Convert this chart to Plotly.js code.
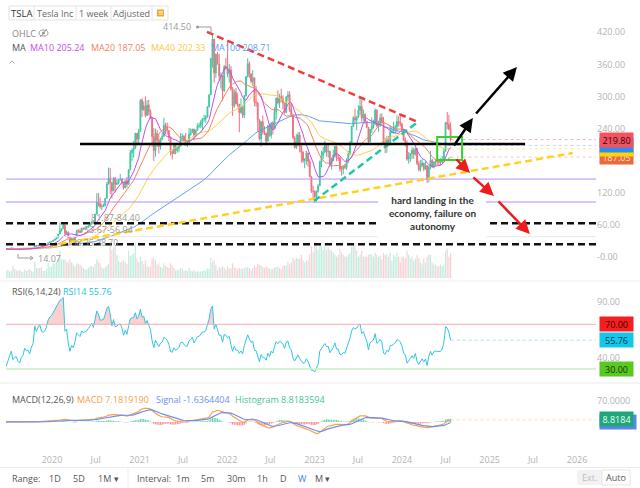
<!DOCTYPE html>
<html>
<head>
<meta charset="utf-8">
<script src="https://cdn.plot.ly/plotly-3.0.1.min.js"></script>
<style>
  html, body { margin: 0; padding: 0; background: #fff; }
  #chart { width: 640px; height: 488px; }
</style>
</head>
<body>
<div id="chart"></div>
<script>
/*****************************************************
 * TSLA weekly, split adjusted (Mar 2019 - Jul 2024)
 * one value per week, last week = 2024-07-22
 *****************************************************/
const lastWeek = Date.UTC(2024, 6, 22);
const firstOpen = 19.7;

const closes = [
  // 2019 from Mar 4
  18.9, 18.4, 17.6, 18.7, 17.9, 17.8, 18.2, 15.7, 17.0, 16.0, 14.1, 12.7, 12.3, 13.6, 14.3, 14.8,
  14.9, 15.5, 16.4, 17.2, 15.2, 15.6, 15.7, 14.6, 14.1, 15.0, 15.3, 16.5, 16.0, 16.1, 15.4, 16.5, 17.1, 21.9, 20.9, 22.5, 23.5, 22.2, 22.0, 22.4, 23.9, 27.0, 28.7, 29.5,
  // 2020
  31.9, 34.0, 37.7, 43.4, 49.9, 53.3, 60.1, 44.5, 46.9, 36.4, 28.5, 34.3, 32.0, 38.2, 50.2, 48.4, 46.8, 54.6, 53.3, 54.4, 55.7, 59.0, 62.4, 66.7, 63.9, 80.5,
  102.9, 100.0, 94.5, 95.4, 96.8, 110.0, 136.6, 147.6, 139.4, 124.0, 147.6, 136.0, 138.4, 145.0, 146.4, 140.2, 129.3, 143.0, 136.1, 163.2, 195.1, 199.7, 203.2, 231.7, 220.4, 235.2,
  // 2021
  293.3, 275.6, 282.1, 264.7, 284.0, 272.0, 260.7, 225.2, 199.0, 231.2, 218.0, 206.4, 220.6, 225.7, 246.3, 243.0, 236.5, 224.0, 196.6, 193.4, 208.4, 199.3, 203.3, 207.8, 224.0, 226.0,
  218.9, 214.6, 214.7, 229.4, 233.4, 239.1, 226.9, 237.0, 244.7, 245.4, 253.2, 258.3, 258.4, 261.8, 281.0, 303.2, 371.4, 407.4, 344.2, 379.0, 360.6, 338.3, 339.0, 310.6, 355.7, 352.3,
  // 2022
  342.3, 350.0, 314.4, 282.1, 307.8, 286.7, 285.7, 269.9, 279.7, 265.1, 301.8, 336.9, 361.5, 342.0, 328.3, 335.0, 290.3, 288.5, 256.5, 221.3, 253.0, 234.5, 232.0, 216.8, 245.7, 227.3,
  250.8, 240.1, 272.0, 297.1, 288.2, 300.0, 296.7, 288.1, 270.2, 299.7, 303.4, 275.3, 265.3, 223.1, 205.0, 214.4, 228.5, 207.5, 196.0, 180.2, 182.9, 194.9, 179.1, 150.2, 123.2, 123.2,
  // 2023
  113.1, 122.4, 133.4, 177.9, 190.0, 196.9, 208.3, 196.9, 197.8, 173.4, 180.1, 190.4, 207.5, 185.0, 185.0, 165.1, 164.3, 170.1, 168.0, 180.1, 193.2, 214.0, 244.4, 260.5, 256.6, 261.8,
  274.4, 281.4, 260.0, 266.4, 253.9, 242.7, 215.5, 238.6, 245.0, 248.5, 274.4, 244.9, 250.2, 260.5, 251.1, 212.0, 207.3, 220.0, 214.7, 234.3, 235.5, 238.8, 243.8, 253.5, 252.5, 248.5,
  // 2024
  237.5, 218.9, 212.2, 183.3, 187.9, 193.6, 200.0, 192.0, 202.6, 175.3, 163.6, 170.8, 175.8, 164.9, 171.1, 147.1, 168.3, 181.2, 168.5, 177.5, 179.2, 178.1, 177.5, 178.0, 183.0, 197.9,
  251.5, 248.2, 239.2, 219.8
];

const highs = [
  19.8, 19.3, 18.6, 18.8, 19.1, 18.3, 18.3, 18.3, 17.3, 17.0, 16.3, 14.1, 13.1, 14.0, 14.6, 15.2,
  15.3, 16.3, 16.6, 17.6, 17.6, 16.3, 16.2, 15.9, 15.0, 15.2, 15.5, 16.6, 16.8, 16.4, 16.3, 16.6, 17.4, 22.1, 22.0, 22.7, 23.8, 23.9, 22.6, 22.6, 24.0, 27.3, 29.0, 30.3,
  32.4, 34.5, 39.0, 43.6, 64.6, 54.0, 61.3, 60.5, 50.4, 48.3, 38.9, 37.2, 35.4, 38.4, 50.3, 52.4, 53.3, 54.8, 55.2, 55.3, 56.9, 60.2, 66.1, 67.0, 67.4, 81.0,
  119.7, 119.7, 112.0, 100.0, 100.2, 110.7, 140.8, 167.5, 166.7, 139.4, 150.0, 150.0, 143.9, 145.6, 155.3, 147.0, 140.2, 143.3, 150.0, 164.8, 200.2, 203.2, 217.0, 231.7, 231.7, 239.6,
  294.8, 297.0, 291.0, 300.1, 293.5, 294.0, 276.0, 262.0, 241.5, 240.0, 238.0, 229.5, 223.0, 232.0, 260.3, 251.0, 251.3, 236.5, 224.0, 200.0, 210.0, 211.0, 207.0, 209.0, 232.2, 231.0,
  228.0, 232.0, 218.0, 241.6, 240.5, 240.0, 240.0, 238.0, 250.0, 251.0, 256.0, 260.0, 266.0, 266.0, 282.0, 304.0, 372.0, 414.5, 407.4, 380.0, 383.0, 380.0, 345.0, 339.0, 359.0, 372.0,
  402.7, 361.0, 357.0, 318.0, 313.0, 316.0, 306.0, 286.0, 296.6, 282.0, 302.6, 338.0, 371.6, 366.0, 343.0, 349.0, 335.0, 320.0, 288.5, 258.0, 254.0, 265.0, 245.0, 232.0, 247.0, 249.0,
  252.0, 254.0, 280.0, 298.0, 311.9, 305.0, 314.7, 302.0, 288.1, 300.0, 310.0, 310.0, 288.0, 268.0, 226.0, 229.9, 234.0, 234.0, 208.9, 198.0, 185.0, 198.9, 194.9, 183.0, 152.0, 133.5,
  125.0, 125.0, 136.7, 180.7, 199.0, 206.0, 217.6, 209.0, 211.2, 199.0, 186.0, 200.7, 207.8, 208.0, 192.0, 188.0, 170.0, 171.0, 174.4, 184.8, 198.6, 217.3, 245.0, 263.6, 276.9, 264.0,
  284.3, 299.3, 294.0, 276.0, 269.0, 254.0, 243.0, 239.0, 261.2, 257.0, 278.4, 276.5, 254.8, 268.0, 268.9, 262.0, 223.0, 226.4, 226.0, 246.7, 243.0, 253.0, 247.0, 265.1, 263.0, 265.1,
  251.0, 238.0, 223.5, 217.8, 196.4, 194.1, 205.6, 204.5, 204.8, 203.0, 179.9, 182.0, 182.5, 176.5, 179.2, 172.0, 172.0, 198.9, 184.0, 179.6, 183.8, 180.3, 180.0, 185.0, 188.8, 203.2,
  252.4, 271.0, 266.0, 251.8
];

const lows = [
  18.4, 18.0, 17.5, 17.2, 16.9, 17.4, 17.2, 15.2, 15.5, 15.8, 13.8, 12.3, 12.1, 11.8, 13.4, 14.0,
  14.3, 14.9, 15.0, 16.3, 14.8, 15.0, 15.0, 14.4, 14.07, 14.1, 14.9, 15.2, 15.8, 15.2, 15.0, 15.4, 16.5, 16.9, 20.1, 20.6, 22.3, 21.8, 21.5, 21.6, 22.2, 23.6, 27.0, 28.3,
  29.3, 31.5, 34.0, 35.0, 43.4, 48.0, 53.0, 40.8, 42.6, 36.3, 23.4, 28.0, 29.8, 32.0, 38.2, 45.0, 45.0, 46.0, 51.5, 52.0, 53.5, 55.6, 58.5, 60.6, 62.0, 63.9,
  80.5, 95.0, 90.7, 88.0, 94.0, 94.8, 110.0, 136.0, 118.0, 110.0, 124.0, 121.0, 135.0, 136.0, 143.0, 136.0, 126.4, 129.3, 130.3, 136.1, 163.2, 180.0, 186.0, 203.2, 209.0, 211.0,
  233.7, 262.0, 273.0, 261.0, 264.0, 265.0, 258.0, 206.0, 179.8, 187.7, 206.0, 193.4, 201.0, 218.5, 225.0, 230.0, 229.0, 217.0, 190.0, 182.3, 193.0, 192.0, 195.0, 197.0, 207.0, 216.0,
  212.0, 212.0, 205.5, 214.7, 227.0, 232.0, 218.0, 226.9, 236.0, 241.0, 241.0, 237.0, 253.0, 251.0, 261.0, 280.0, 303.2, 354.0, 326.2, 335.0, 360.0, 330.0, 315.0, 292.7, 309.0, 350.0,
  336.0, 326.0, 311.0, 264.0, 279.0, 285.0, 280.0, 233.3, 268.0, 260.0, 260.0, 300.0, 336.0, 335.0, 325.0, 320.0, 282.0, 281.0, 234.0, 218.0, 206.9, 229.0, 228.0, 208.7, 216.0, 225.0,
  222.0, 229.0, 240.0, 257.0, 285.0, 279.0, 290.0, 276.0, 268.0, 270.0, 292.0, 271.0, 262.0, 221.0, 203.0, 202.0, 207.0, 196.0, 177.0, 176.0, 166.2, 172.7, 169.1, 150.0, 120.0, 108.2,
  101.8, 104.6, 121.0, 133.4, 168.2, 183.0, 194.0, 188.0, 186.0, 168.7, 163.9, 180.0, 187.0, 179.0, 180.0, 160.0, 152.4, 155.0, 164.5, 163.0, 176.0, 191.0, 214.0, 243.0, 250.0, 237.0,
  260.0, 265.0, 253.0, 255.0, 249.0, 241.0, 212.4, 215.0, 232.0, 240.0, 248.0, 244.0, 234.6, 243.0, 250.0, 210.0, 194.1, 195.0, 208.0, 210.0, 232.0, 231.0, 231.0, 234.0, 244.0, 244.0,
  234.6, 217.0, 207.0, 180.1, 175.0, 178.0, 183.0, 184.0, 190.0, 172.0, 160.5, 160.0, 169.0, 160.5, 163.0, 138.8, 140.0, 164.0, 168.0, 166.0, 171.0, 172.0, 170.8, 171.0, 177.0, 182.0,
  198.0, 239.0, 237.0, 216.0
];

// weekly volume, millions of shares (as drawn)
const volumes = [
  200, 180, 160, 160, 250, 180, 150, 320, 280, 220, 280, 300, 220, 350, 300, 200,
  180, 220, 170, 190, 300, 230, 200, 180, 210, 170, 150, 210, 180, 200, 230, 180, 170, 420, 260, 250, 260, 280, 180, 180, 230, 380, 280, 300,
  380, 360, 420, 500, 700, 480, 480, 480, 420, 420, 480, 400, 340, 300, 380, 360, 340, 300, 260, 220, 220, 260, 300, 300, 280, 360,
  480, 420, 380, 280, 240, 280, 320, 360, 850, 720, 800, 820, 600, 450, 400, 420, 450, 400, 360, 700, 560, 600, 640, 900, 500, 420,
  550, 450, 350, 450, 300, 280, 300, 500, 520, 450, 340, 380, 280, 260, 380, 320, 280, 260, 380, 320, 260, 200, 210, 210, 260, 230,
  180, 200, 180, 260, 190, 170, 200, 160, 180, 150, 170, 180, 200, 180, 240, 240, 520, 420, 460, 340, 200, 280, 260, 300, 260, 220,
  300, 240, 260, 380, 280, 260, 220, 260, 240, 240, 260, 280, 280, 260, 200, 260, 320, 280, 360, 340, 320, 280, 260, 300, 260, 240,
  220, 240, 280, 280, 300, 260, 220, 300, 320, 320, 420, 350, 390, 520, 470, 520, 490, 500, 590, 460, 400, 450, 450, 620, 820, 670,
  870, 820, 720, 900, 820, 720, 900, 720, 800, 720, 700, 650, 600, 550, 600, 750, 650, 600, 560, 550, 600, 650, 800, 850, 900, 700,
  550, 600, 700, 550, 560, 550, 600, 620, 600, 550, 650, 600, 550, 580, 480, 650, 600, 600, 550, 650, 450, 600, 550, 650, 550, 400,
  550, 550, 500, 700, 600, 500, 550, 450, 500, 600, 500, 400, 350, 500, 400, 550, 600, 600, 400, 350, 350, 300, 300, 350, 300, 350,
  700, 750, 550, 650
];

// header / legend texts as shown
const maLegend = [['MA10', '205.24', '#c64cf2'], ['MA20', '187.05', '#f0845e'], ['MA40', '202.33', '#fcc93a'], ['MA100', '208.71', '#5ea1f3']];
const rsiLegend = 'RSI14 55.76';
const macdLegend = [['MACD 7.1819190', '#f5a04a'], ['Signal -1.6364404', '#6d8ff3'], ['Histogram 8.8183594', '#3fc49c']];

const xTickVals = ['2020-01-01', '2020-07-01', '2021-01-01', '2021-07-01', '2022-01-01', '2022-07-01', '2023-01-01',
                   '2023-07-01', '2024-01-01', '2024-07-01', '2025-01-01', '2025-07-01', '2026-01-01'];
const xTickText = ['2020', 'Jul', '2021', 'Jul', '2022', 'Jul', '2023', 'Jul', '2024', 'Jul', '2025', 'Jul', '2026'];
const priceTicks = [0, 60, 120, 240, 300, 360, 420];

/*****************************************************
 * derived series
 *****************************************************/
const N = closes.length;
const dates = closes.map((_, i) =>
  new Date(lastWeek - (N - 1 - i) * 7 * 864e5).toISOString().slice(0, 10));
const opens = closes.map((c, i) => i === 0 ? firstOpen : closes[i - 1]);

function sma(arr, n) {
  return arr.map((_, i) => {
    const s = arr.slice(Math.max(0, i - n + 1), i + 1);
    return s.reduce((a, b) => a + b, 0) / s.length;
  });
}
function ema(arr, n) {
  const k = 2 / (n + 1);
  let prev = arr[0];
  return arr.map((v, i) => (prev = i === 0 ? v : v * k + prev * (1 - k)));
}
function rsiCalc(arr, n) {
  const out = [null];
  let up = 0, dn = 0;
  for (let i = 1; i < arr.length; i++) {
    const d = arr[i] - arr[i - 1];
    if (i === 1) { up = Math.max(d, 0); dn = Math.abs(d); }
    else {
      up = (Math.max(d, 0) + (n - 1) * up) / n;
      dn = (Math.abs(d) + (n - 1) * dn) / n;
    }
    out.push(dn === 0 ? 50 : 100 * up / dn);
  }
  return out;
}

const ma10 = sma(closes, 10), ma20 = sma(closes, 20), ma40 = sma(closes, 40), ma100 = sma(closes, 100);
const rsi = rsiCalc(closes, 14);
const ema12 = ema(closes, 12), ema26 = ema(closes, 26);
const dif = ema12.map((v, i) => v - ema26[i]);
const dea = ema(dif, 9);
const hist = dif.map((v, i) => v - dea[i]);
const last = a => a[a.length - 1];

/*****************************************************
 * page geometry helpers (pixel -> paper)
 *****************************************************/
const W = 640, H = 488, ML = 6, MR = 44;
const px = x => (x - ML) / (W - ML - MR);
const py = y => 1 - y / H;
const xLeft = '2019-06-23', xRight = '2026-03-21';
const FONT = 'Open Sans, sans-serif';
const dash = '7px,4px';

/*****************************************************
 * traces
 *****************************************************/
const upCol = '#3ec7a2', dnCol = '#f26f7e';
const isUp = closes.map((c, i) => c >= opens[i]);

const volTrace = {
  type: 'bar', x: dates, y: volumes, yaxis: 'y',
  marker: { color: isUp.map(u => u ? '#c2ecde' : '#f9d0d6') }, hoverinfo: 'skip'
};
const candles = {
  type: 'candlestick', x: dates, open: opens, high: highs, low: lows, close: closes, yaxis: 'y2',
  increasing: { line: { color: upCol, width: 1 }, fillcolor: upCol },
  decreasing: { line: { color: dnCol, width: 1 }, fillcolor: dnCol },
  hoverinfo: 'skip'
};
const maLine = (y, color) => ({ type: 'scatter', mode: 'lines', x: dates, y, yaxis: 'y2',
  line: { color, width: 1 }, hoverinfo: 'skip' });
const dotLine = (v, color, yaxis) => ({ type: 'scatter', mode: 'lines', x: [last(dates), xRight], y: [v, v],
  yaxis, line: { color, width: 1, dash: 'dot' }, hoverinfo: 'skip' });

const rsiBase = { type: 'scatter', mode: 'lines', x: dates, y: dates.map(() => 70), yaxis: 'y3',
  line: { width: 0 }, hoverinfo: 'skip' };
const rsiFill = { type: 'scatter', mode: 'lines', x: dates, y: rsi.map(v => Math.max(v, 70)), yaxis: 'y3',
  fill: 'tonexty', fillcolor: 'rgba(244,120,120,0.35)', line: { width: 0 }, hoverinfo: 'skip' };
const rsiLine = { type: 'scatter', mode: 'lines', x: dates, y: rsi, yaxis: 'y3',
  line: { color: '#2fc6e6', width: 1 }, hoverinfo: 'skip' };

const histTrace = { type: 'bar', x: dates, y: hist, yaxis: 'y4',
  marker: { color: hist.map(v => v >= 0 ? '#6fd2ae' : '#f4909a') }, hoverinfo: 'skip' };
const difLine = { type: 'scatter', mode: 'lines', x: dates, y: dif, yaxis: 'y4',
  line: { color: '#f7a24a', width: 1.2 }, hoverinfo: 'skip' };
const deaLine = { type: 'scatter', mode: 'lines', x: dates, y: dea, yaxis: 'y4',
  line: { color: '#6d8ff3', width: 1.2 }, hoverinfo: 'skip' };

const traces = [
  volTrace, candles,
  maLine(ma100, '#5ea1f3'), maLine(ma40, '#fcd04a'), maLine(ma20, '#f0845e'), maLine(ma10, '#c64cf2'),
  dotLine(last(closes), 'rgba(242,82,95,0.45)', 'y2'), dotLine(last(ma100), 'rgba(94,161,243,0.45)', 'y2'),
  dotLine(last(ma40), 'rgba(252,200,58,0.5)', 'y2'), dotLine(last(ma20), 'rgba(240,132,94,0.45)', 'y2'),
  rsiBase, rsiFill, rsiLine, dotLine(last(rsi), 'rgba(47,198,230,0.45)', 'y3'),
  histTrace, difLine, deaLine, dotLine(last(dif), 'rgba(247,162,74,0.4)', 'y4')
];

/*****************************************************
 * shapes (pane borders, drawings, toolbars)
 *****************************************************/
function pline(x0, y0, x1, y1, color, width, d) {
  return { type: 'line', xref: 'paper', yref: 'paper', x0: px(x0), y0: py(y0), x1: px(x1), y1: py(y1),
    line: { color, width, dash: d || 'solid' } };
}
function prect(x0, y0, x1, y1, fill, color) {
  return { type: 'rect', xref: 'paper', yref: 'paper', x0: px(x0), y0: py(y0), x1: px(x1), y1: py(y1),
    fillcolor: fill, line: { color: color || 'rgba(0,0,0,0)', width: color ? 1 : 0 } };
}
function hline(v, color, width, d) {
  return { type: 'line', xref: 'paper', yref: 'y2', x0: 0, x1: 1, y0: v, y1: v, line: { color, width, dash: d || 'solid' } };
}
function seg(x0, y0, x1, y1, color, width, d) {
  return { type: 'line', xref: 'x', yref: 'y2', x0, y0, x1, y1, line: { color, width, dash: d || 'solid' } };
}

const shapes = [
  pline(0, 281, 640, 281, '#ececec', 1),
  pline(0, 383, 640, 383, '#ececec', 1),
  pline(0, 467.5, 640, 467.5, '#ececec', 1),
  // rsi guide lines
  { type: 'line', xref: 'paper', yref: 'y3', x0: 0, x1: 1, y0: 70, y1: 70, line: { color: '#f7aaaa', width: 1 } },
  { type: 'line', xref: 'paper', yref: 'y3', x0: 0, x1: 1, y0: 30, y1: 30, line: { color: '#c9ecc4', width: 1.5 } },
  // horizontal levels
  pline(53, 236.7, 596, 236.7, '#e9e9e9', 1),
  hline(146, '#b58cf5', 1), hline(103.2, '#b58cf5', 1),
  hline(63.5, '#111', 2.5, dash), hline(24.3, '#111', 2.5, dash),
  // white box behind the comment
  prect(378, 190, 486, 239, '#ffffff'),
  // trend lines
  seg('2020-02-01', 24.8, '2025-12-14', 194.7, '#ffd21f', 2.5, dash),
  seg('2021-10-09', 420.6, '2024-03-07', 252.6, '#f23b3b', 2.5, dash),
  seg('2022-12-30', 105, '2024-03-07', 252.6, '#1fc7a6', 2.5, dash),
  seg('2020-04-27', 211.5, '2025-05-29', 211.5, '#000', 2.5),
  { type: 'rect', xref: 'x', yref: 'y2', x0: '2024-05-27', x1: '2024-09-08', y0: 181.6, y1: 224.6,
    line: { color: '#39d12d', width: 2 } },
  // price markers (max / min)
  { type: 'path', xref: 'paper', yref: 'paper', line: { color: '#9a9a9a', width: 1 },
    path: `M ${px(198)} ${py(27)} L ${px(211)} ${py(27)} L ${px(211)} ${py(34)}` },
  { type: 'circle', xref: 'paper', yref: 'paper', x0: px(196), x1: px(199), y0: py(28.5), y1: py(25.5),
    fillcolor: '#9a9a9a', line: { width: 0 } },
  { type: 'path', xref: 'paper', yref: 'paper', line: { color: '#9a9a9a', width: 1 },
    path: `M ${px(18)} ${py(254)} L ${px(18)} ${py(258)} L ${px(33)} ${py(258)} M ${px(30)} ${py(256)} L ${px(33)} ${py(258)} L ${px(30)} ${py(260)}` },
  // collapse chevron
  { type: 'path', xref: 'paper', yref: 'paper', line: { color: '#aaa', width: 1 },
    path: `M ${px(9.5)} ${py(63.5)} L ${px(12)} ${py(61)} L ${px(14.5)} ${py(63.5)}` },
  // eye icon
  { type: 'circle', xref: 'paper', yref: 'paper', x0: px(39), x1: px(48), y0: py(36), y1: py(30),
    line: { color: '#999', width: 1 } },
  { type: 'circle', xref: 'paper', yref: 'paper', x0: px(42), x1: px(45), y0: py(34.5), y1: py(31.5),
    fillcolor: '#999', line: { width: 0 } },
  pline(40, 37, 47, 29, '#999', 1),
  // top toolbar
  prect(9, 6, 168, 20, '#fff', '#e3e3e3'),
  pline(34, 6, 34, 20, '#e3e3e3', 1), pline(76, 6, 76, 20, '#e3e3e3', 1),
  pline(111, 6, 111, 20, '#e3e3e3', 1), pline(152, 6, 152, 20, '#e3e3e3', 1),
  prect(157, 9.5, 164, 16.5, '#f7a31c'),
  // bottom toolbar
  pline(128, 469, 128, 488, '#ececec', 1),
  prect(577, 470, 602, 485, '#f2f2f2'),
  prect(602, 470, 630, 485, '#fff', '#e6e6e6')
];

/*****************************************************
 * annotations
 *****************************************************/
const ann = [];
function txt(text, x, y, color, opts) {
  ann.push(Object.assign({ text, xref: 'paper', yref: 'paper', x: px(x), y: py(y), showarrow: false,
    xanchor: 'left', yanchor: 'middle', font: { family: FONT, size: 9, color } }, opts || {}));
}
function tag(text, v, yref, bg, fg, width) {
  ann.push({ text, xref: 'paper', yref, x: px(599), y: v, xanchor: 'left', yanchor: 'middle', showarrow: false,
    bgcolor: bg, width: width || 31, height: 12, borderpad: 1, align: 'center',
    font: { family: FONT, size: 9, color: fg } });
}
function arrow(x0, y0, x1, y1, color) {
  ann.push({ text: '', xref: 'x', yref: 'y2', axref: 'x', ayref: 'y2', x: x1, y: y1, ax: x0, ay: y0,
    showarrow: true, arrowhead: 2, arrowsize: 1.1, arrowwidth: 2.5, arrowcolor: color, standoff: 0 });
}

// toolbar texts
txt('TSLA', 21.5, 13.5, '#333', { xanchor: 'center', font: { family: FONT, size: 9.5, color: '#333' } });
txt('Tesla Inc', 55, 13.5, '#666', { xanchor: 'center' });
txt('1 week', 93.5, 13.5, '#666', { xanchor: 'center' });
txt('Adjusted', 131.5, 13.5, '#666', { xanchor: 'center' });
txt('≡', 160.5, 13, '#fff', { xanchor: 'center', font: { family: 'DejaVu Sans', size: 7, color: '#fff' } });

// legends
txt('OHLC', 10, 33, '#888');
txt('MA', 10, 47, '#555');
let lx = [28, 89, 149, 209];
maLegend.forEach((m, i) => txt(m[0] + ' ' + m[1], lx[i], 47, m[2]));
txt('RSI(6,14,24)', 10, 291, '#555');
txt(rsiLegend, 61, 291, '#22c3e6');
txt('MACD(12,26,9)', 10, 399, '#555');
lx = [75, 154, 233];
macdLegend.forEach((m, i) => txt(m[0], lx[i], 399, m[1]));

// chart labels
txt('414.50', 193, 27, '#9a9a9a', { xanchor: 'right' });
txt('14.07', 36, 258, '#9a9a9a');
txt('81.87-84.40', 115, 217, '#9a9a9a', { xanchor: 'center' });
txt('53.67-56.94', 108, 229.5, '#9a9a9a', { xanchor: 'center' });
txt('38.35-38.70', 95, 242, '#9a9a9a', { xanchor: 'center', font: { family: FONT, size: 8.5, color: '#9a9a9a' } });
txt('hard landing in the<br>economy, failure on<br>autonomy', 433, 213, '#333',
  { xanchor: 'center', align: 'center', font: { family: 'Lato, sans-serif', size: 10, color: '#333', weight: 'bold' } });

// arrows drawn on the price pane
arrow('2024-08-01', 205.9, '2024-10-23', 259.9, '#000');
arrow('2024-10-31', 265.5, '2025-04-25', 355.2, '#000');
arrow('2024-08-09', 185.4, '2024-10-11', 157.4, '#ee1c1c');
arrow('2024-10-19', 151.8, '2025-01-19', 114.4, '#ee1c1c');
arrow('2025-02-01', 107.0, '2025-06-18', 43.5, '#ee1c1c');

// price tags on the right axis
tag('187.05', last(ma20), 'y2', '#ea6a3a', '#fde3d8');
tag('', last(ma40), 'y2', '#ffd600', '#333');
tag('', last(ma100), 'y2', '#2f8cf2', '#fff');
tag('219.80', last(closes), 'y2', '#f4525f', '#2b0a0e');
tag('70.00', 70, 'y3', '#f61e1e', '#3a0303');
tag('55.76', last(rsi), 'y3', '#12c7ea', '#06323c');
tag('30.00', 30, 'y3', '#5ac81e', '#173300');
tag('', last(dea), 'y4', '#5b86f0', '#fff', 34);
tag('8.8184', last(hist) + 2, 'y4', '#1fa67a', '#e8fff6');

// bottom toolbar
txt('Range:', 10, 478, '#555');
[['1D', 55], ['5D', 79], ['1M ▾', 108]].forEach(t => txt(t[0], t[1], 478, '#555', { xanchor: 'center' }));
txt('Interval:', 135, 478, '#555');
[['1m', 182], ['5m', 207], ['30m', 236], ['1h', 262], ['D', 283], ['M ▾', 322]]
  .forEach(t => txt(t[0], t[1], 478, '#555', { xanchor: 'center' }));
txt('W', 303, 478, '#3d7eff', { xanchor: 'center' });
txt('Ext.', 589.5, 477.5, '#bbb', { xanchor: 'center' });
txt('Auto', 616, 477.5, '#555', { xanchor: 'center' });

/*****************************************************
 * layout
 *****************************************************/
const tickFont = { family: FONT, size: 9, color: '#b3b3b3' };
const layout = {
  width: W, height: H,
  margin: { l: ML, r: MR, t: 0, b: 0 },
  paper_bgcolor: '#fff', plot_bgcolor: '#fff',
  showlegend: false, hovermode: false, bargap: 0.3,
  font: { family: FONT },
  xaxis: {
    type: 'date', range: [xLeft, xRight], anchor: 'y4',
    tickvals: xTickVals, ticktext: xTickText, tickfont: tickFont, ticklabelstandoff: 6,
    showgrid: false, zeroline: false, showline: false, ticks: '',
    rangeslider: { visible: false }
  },
  yaxis: { domain: [py(280), py(22)], range: [-51, 6583], visible: false, fixedrange: true },
  yaxis2: {
    overlaying: 'y', side: 'right', range: [-42.4, 439.2],
    tickvals: priceTicks, ticktext: priceTicks.map(v => v === 0 ? '-0.00' : v.toFixed(2)),
    tickfont: tickFont, showgrid: false, zeroline: false, showline: false, ticks: ''
  },
  yaxis3: {
    domain: [py(378), py(283)], range: [21.9, 107], side: 'right', anchor: 'x',
    tickvals: [40, 90], ticktext: ['40.00', '90.00'], tickfont: tickFont,
    showgrid: false, zeroline: false, showline: false, ticks: ''
  },
  yaxis4: {
    domain: [py(447), py(388)], range: [-83.3, 113.3], side: 'right', anchor: 'x',
    tickvals: [70], ticktext: ['70.0000'], tickfont: tickFont,
    showgrid: false, zeroline: false, showline: false, ticks: ''
  },
  shapes,
  annotations: ann
};

Plotly.newPlot('chart', traces, layout, { staticPlot: true, displayModeBar: false });
</script>
</body>
</html>
